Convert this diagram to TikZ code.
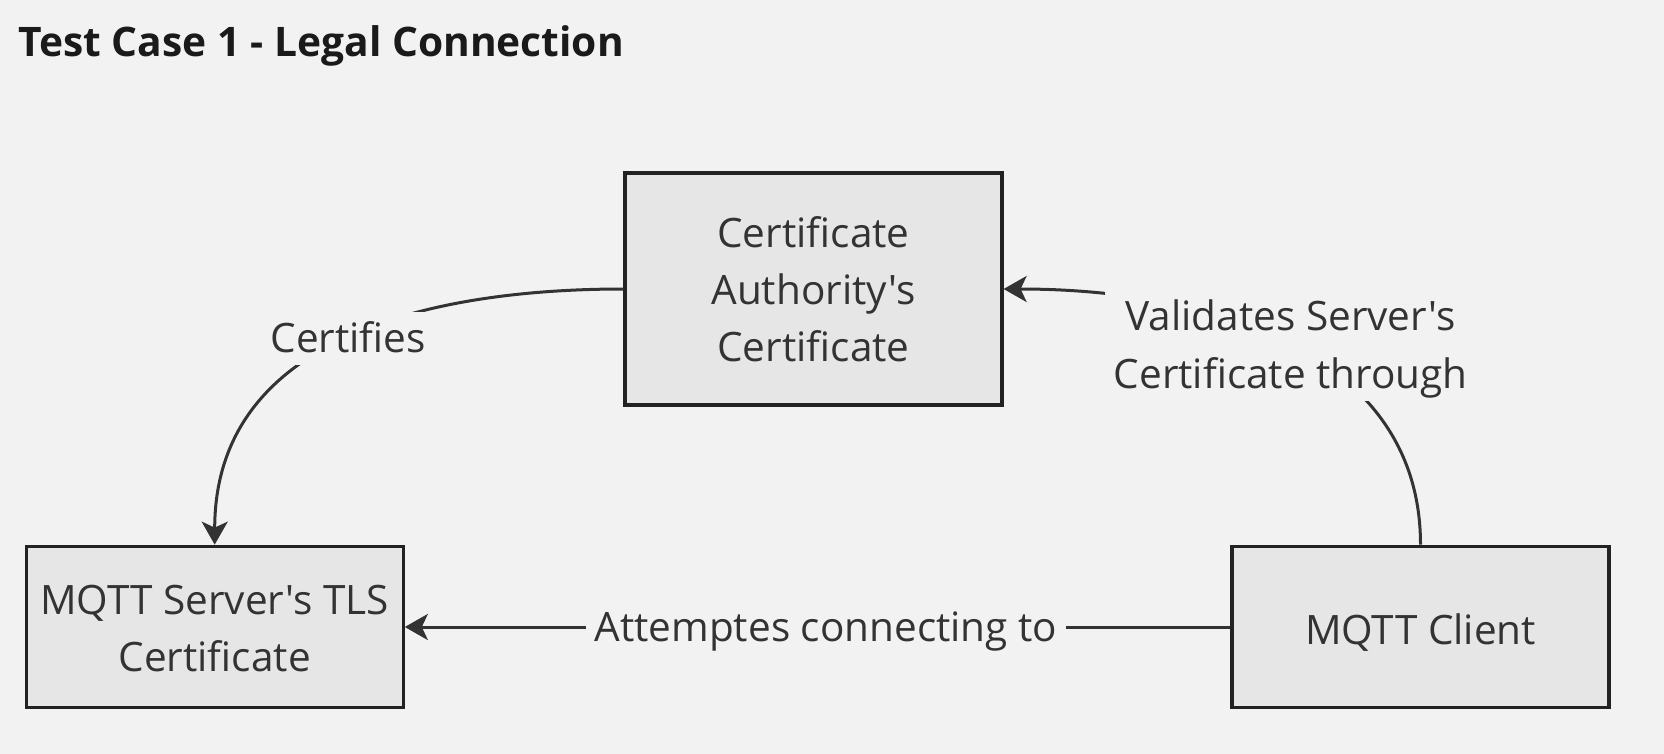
\documentclass[tikz,border=0pt]{standalone}
\usepackage{fontspec}
\setmainfont{Open Sans}[Ligatures=TeXOff]
\usetikzlibrary{positioning, arrows.meta}

\definecolor{pagebg}{HTML}{F2F2F2}
\definecolor{boxfill}{HTML}{E6E6E6}
\definecolor{boxline}{HTML}{222222}
\definecolor{inkgrey}{HTML}{333333}
\definecolor{titleink}{HTML}{1A1A1A}

\begin{document}
\begin{tikzpicture}[x=1pt,y=-1pt,
    every node/.style={text=inkgrey,font=\fontsize{40.5pt}{57pt}\selectfont},
    certbox/.style={draw=boxline,line width=3.2pt,fill=boxfill,
        minimum width=377pt,align=center,inner sep=0pt,text depth=0pt},
    link/.style={draw=inkgrey,line width=3pt,
        -{Stealth[length=23pt,width=26pt,inset=6pt]}},
    linklabel/.style={fill=pagebg,align=center,inner xsep=9pt,inner ysep=11pt,
        font=\fontsize{40.5pt}{58pt}\selectfont,text height=30pt,text depth=1pt}]

    \fill[pagebg] (0,0) rectangle (1664,754);
    \useasboundingbox (0,0) rectangle (1664,754);

    \node[anchor=base west,text=titleink,
        font=\fontsize{40.7pt}{50pt}\selectfont\bfseries] (title) at (15,57)
        {Test Case 1 - Legal Connection};

    % the three certificate parties
    \node[certbox,minimum height=232pt,text height=144pt] (ca) at (813.5,289)
        {Certificate\\Authority's\\Certificate};
    \node[certbox,minimum height=161.5pt,text height=89pt] (server) at (214.7,627)
        {MQTT Server's TLS\\Certificate};
    \node[certbox,minimum height=161.5pt,text height=34pt] (client)
        at (1420.5,627) {MQTT Client};

    %putting arrows and labels:
    \draw[link] (ca.west) to[out=180,in=90,in looseness=1.11]
        node[linklabel] (certifies) {Certifies} (server.north);

    \draw[link] (client.north) to[out=90,in=0,in looseness=1.1]
        node[linklabel,text height=88pt] (validates)
        {Validates Server's\\Certificate through} (ca.east);

    \draw[link] (client) --
        node[linklabel,pos=0.49] (attempts) {Attemptes connecting to} (server);

\end{tikzpicture}
\end{document}
